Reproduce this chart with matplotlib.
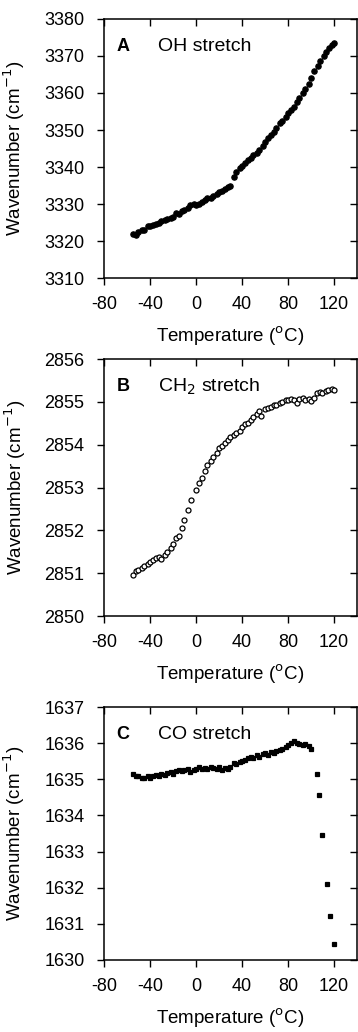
import numpy as np
import matplotlib.pyplot as plt

plt.rcParams['font.family'] = ['Liberation Sans', 'DejaVu Sans']
plt.rcParams['axes.unicode_minus'] = False

# panel A: OH stretch (filled circles)
temp_a = [-55, -52, -50, -47, -45, -42, -40, -37, -35, -32, -30, -27, -25, -22, -20,
          -17, -15, -12, -10, -7, -5, -2, 0, 3, 5, 8, 10, 13, 15, 18, 20, 23, 25, 28, 30,
          33, 35, 38, 40, 43, 45, 48, 50, 53, 55, 58, 60, 63, 65, 68, 70, 73, 75, 78, 80,
          83, 85, 88, 90, 93, 95, 98, 100, 103, 106, 108, 111, 113, 116, 118, 120]
oh_a = [3322.0, 3321.5, 3322.5, 3323.0, 3323.0, 3324.0, 3324.0, 3324.3, 3324.6, 3325.0,
        3325.5, 3325.6, 3326.0, 3326.1, 3326.4, 3327.5, 3327.4, 3328.0, 3328.5, 3329.0,
        3329.6, 3330.0, 3329.8, 3330.0, 3330.5, 3331.2, 3331.5, 3331.5, 3332.2, 3332.8,
        3333.2, 3333.4, 3334.0, 3334.6, 3335.0, 3337.3, 3338.6, 3339.6, 3340.4, 3341.0,
        3341.8, 3342.4, 3343.2, 3343.8, 3344.6, 3345.6, 3346.8, 3347.8, 3348.6, 3349.4,
        3350.5, 3352.0, 3352.4, 3353.4, 3354.6, 3355.4, 3356.2, 3357.6, 3358.6, 3360.0,
        3361.2, 3362.4, 3364.0, 3366.0, 3367.2, 3368.6, 3370.0, 3371.0, 3372.2, 3373.0,
        3373.5]

# panel B: CH2 stretch (open circles)
temp_b = [-55, -52, -50, -47, -45, -42, -40, -37, -35, -32, -30, -27, -25, -22, -20,
          -17, -15, -12, -10, -7, -4, 0, 3, 5, 8, 10, 13, 15, 18, 20, 23, 25, 28, 30, 33,
          35, 38, 40, 43, 45, 48, 50, 53, 55, 57, 60, 63, 65, 68, 70, 73, 75, 78, 80, 83,
          85, 88, 90, 93, 95, 98, 100, 103, 105, 108, 110, 113, 115, 118, 120]
ch2_b = [2850.95, 2851.05, 2851.08, 2851.12, 2851.18, 2851.22, 2851.27, 2851.32, 2851.35,
         2851.38, 2851.33, 2851.42, 2851.50, 2851.58, 2851.68, 2851.82, 2851.88, 2852.05,
         2852.25, 2852.47, 2852.72, 2852.95, 2853.10, 2853.22, 2853.38, 2853.52, 2853.62,
         2853.72, 2853.82, 2853.92, 2853.98, 2854.04, 2854.12, 2854.18, 2854.24, 2854.28,
         2854.32, 2854.42, 2854.48, 2854.52, 2854.58, 2854.64, 2854.72, 2854.78, 2854.68,
         2854.84, 2854.85, 2854.88, 2854.92, 2854.93, 2854.98, 2855.00, 2855.04, 2855.05,
         2855.08, 2855.04, 2854.98, 2855.08, 2855.10, 2855.05, 2855.07, 2855.02, 2855.10,
         2855.20, 2855.24, 2855.22, 2855.25, 2855.28, 2855.30, 2855.27]

# panel C: CO stretch (filled squares)
temp_c = [-55, -52, -50, -47, -45, -42, -40, -37, -35, -32, -30, -27, -25, -22, -20,
          -17, -15, -12, -10, -7, -5, -2, 0, 3, 5, 8, 10, 13, 15, 18, 20, 23, 25, 28, 30,
          33, 35, 38, 40, 43, 45, 48, 50, 53, 55, 58, 60, 63, 65, 68, 70, 73, 75, 78, 80,
          83, 85, 88, 90, 93, 95, 98, 100, 105, 107, 110, 114, 117, 120]
co_c = [1635.15, 1635.10, 1635.08, 1635.05, 1635.05, 1635.08, 1635.05, 1635.10, 1635.12,
        1635.10, 1635.15, 1635.12, 1635.18, 1635.20, 1635.15, 1635.22, 1635.25, 1635.22,
        1635.25, 1635.28, 1635.20, 1635.25, 1635.28, 1635.35, 1635.30, 1635.32, 1635.30,
        1635.35, 1635.32, 1635.30, 1635.35, 1635.25, 1635.32, 1635.30, 1635.35, 1635.45,
        1635.42, 1635.48, 1635.52, 1635.55, 1635.58, 1635.62, 1635.60, 1635.68, 1635.62,
        1635.70, 1635.72, 1635.68, 1635.75, 1635.72, 1635.78, 1635.80, 1635.85, 1635.90,
        1635.95, 1636.02, 1636.05, 1636.00, 1635.98, 1635.95, 1635.98, 1635.92, 1635.85,
        1635.15, 1634.58, 1633.45, 1632.10, 1631.22, 1630.45]

panels = [
    dict(x=temp_a, y=oh_a, ylim=(3310, 3380), yticks=np.arange(3310, 3381, 10),
         letter='A', name='OH stretch', marker='o', fill='black', ms=3.8,
         rect=[0.29, 0.7306, 0.707, 0.251]),
    dict(x=temp_b, y=ch2_b, ylim=(2850, 2856), yticks=np.arange(2850, 2857, 1),
         letter='B', name='CH$_2$ stretch', marker='o', fill='white', ms=3.6,
         rect=[0.29, 0.403, 0.707, 0.249]),
    dict(x=temp_c, y=co_c, ylim=(1630, 1637), yticks=np.arange(1630, 1638, 1),
         letter='C', name='CO stretch', marker='s', fill='black', ms=3.1,
         rect=[0.29, 0.0698, 0.707, 0.245]),
]

fig = plt.figure(figsize=(3.58, 10.32), dpi=100)

for p in panels:
    ax = fig.add_axes(p['rect'])
    ax.plot(p['x'], p['y'], linestyle='none', marker=p['marker'],
            markersize=p['ms'], markerfacecolor=p['fill'],
            markeredgecolor='black', markeredgewidth=0.9)
    ax.set_xlim(-80, 140)
    ax.set_ylim(*p['ylim'])
    ax.set_xticks([-80, -40, 0, 40, 80, 120])
    ax.set_yticks(p['yticks'])
    ax.tick_params(labelsize=13, length=5, width=1, pad=8)
    ax.tick_params(axis='y', pad=9)
    ax.tick_params(top=True, right=True, which='major')
    for side in ['left', 'bottom', 'top', 'right']:
        ax.spines[side].set_linewidth(1.1)
    # ticks on top and right point inward
    for t in ax.xaxis.get_major_ticks():
        t.tick2line.set_marker(3)
    for t in ax.yaxis.get_major_ticks():
        t.tick2line.set_marker(0)
    ax.set_xlabel('Temperature ($^{\\rm o}$C)', fontsize=13.5, labelpad=8)
    ax.set_ylabel('Wavenumber (cm$^{-1}$)', fontsize=13.5, labelpad=12)
    ax.text(0.05, 0.892, p['letter'], transform=ax.transAxes, fontsize=13,
            fontweight='bold', va='center')
    ax.text(0.213, 0.892, p['name'], transform=ax.transAxes, fontsize=14,
            va='center')

fig.savefig('out.png', dpi=100)
